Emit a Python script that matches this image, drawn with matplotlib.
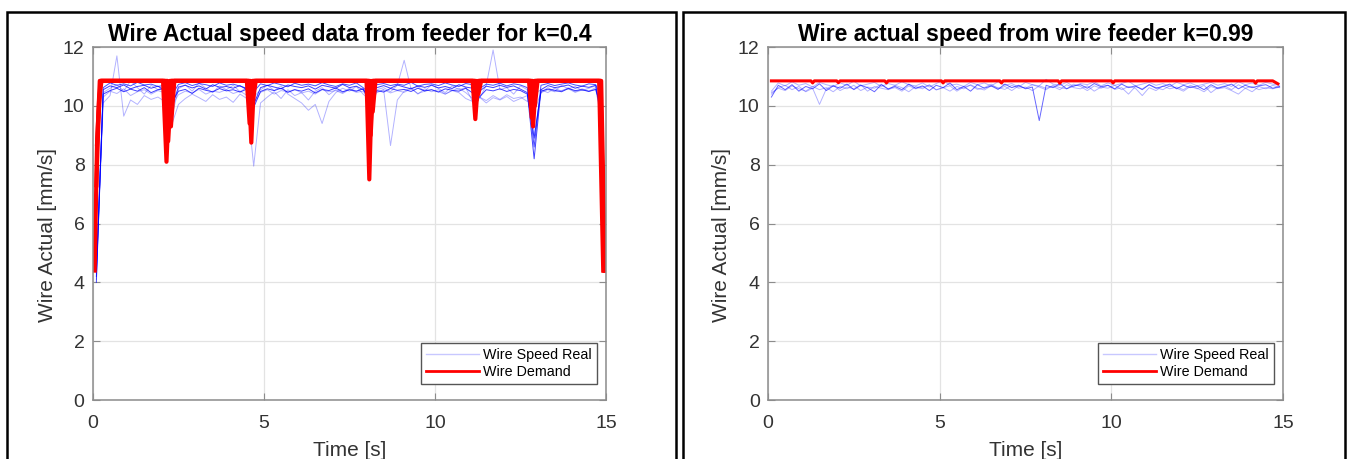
import matplotlib.pyplot as plt
import numpy as np
from matplotlib.lines import Line2D
from matplotlib.patches import Rectangle

plt.rcParams['font.family'] = ['Liberation Sans', 'DejaVu Sans']

# Sample times of the measured wire speed (every 0.2 s)
t_real = np.round(np.arange(0.1, 15.0, 0.2), 2)

# ---- k = 0.4 : measured wire speed, one list per run ----
left_real_1 = [4.2, 10.55, 10.68, 10.62, 10.71, 10.58, 10.66, 10.70, 10.60, 10.67,
               10.52, 9.95, 10.64, 10.70, 10.61, 10.68, 10.57, 10.72, 10.63, 10.66,
               10.60, 10.69, 10.55, 10.05, 10.62, 10.70, 10.64, 10.58, 10.71, 10.66,
               10.62, 10.68, 10.57, 10.70, 10.65, 10.60, 10.73, 10.62, 10.67, 10.55,
               10.30, 10.62, 10.69, 10.60, 10.71, 10.64, 10.58, 10.68, 10.63, 10.70,
               10.61, 10.66, 10.59, 10.72, 10.64, 10.60, 10.50, 10.67, 10.62, 10.70,
               10.63, 10.68, 10.57, 10.45, 8.20, 10.55, 10.69, 10.62, 10.66, 10.71,
               10.60, 10.67, 10.63, 10.70, 9.40]
left_real_2 = [4.0, 10.62, 10.78, 10.70, 10.75, 10.68, 10.80, 10.71, 10.74, 10.66,
               10.70, 10.35, 10.73, 10.79, 10.69, 10.76, 10.72, 10.66, 10.78, 10.70,
               10.74, 10.67, 10.60, 10.48, 10.75, 10.69, 10.78, 10.72, 10.65, 10.77,
               10.70, 10.74, 10.68, 10.79, 10.71, 10.66, 10.75, 10.70, 10.78, 10.62,
               10.40, 10.72, 10.76, 10.69, 10.74, 10.70, 10.80, 10.67, 10.73, 10.75,
               10.69, 10.78, 10.71, 10.66, 10.76, 10.72, 10.58, 10.74, 10.70, 10.77,
               10.68, 10.75, 10.71, 10.62, 8.60, 10.70, 10.76, 10.69, 10.74, 10.78,
               10.71, 10.67, 10.75, 10.72, 10.20]
left_real_3 = [4.4, 10.40, 10.52, 10.60, 10.48, 10.57, 10.50, 10.62, 10.45, 10.55,
               10.58, 10.10, 10.50, 10.56, 10.42, 10.60, 10.53, 10.48, 10.59, 10.51,
               10.55, 10.47, 10.57, 9.95, 10.49, 10.58, 10.52, 10.60, 10.46, 10.55,
               10.50, 10.58, 10.44, 10.56, 10.52, 10.61, 10.48, 10.55, 10.50, 10.58,
               10.15, 10.52, 10.47, 10.59, 10.53, 10.56, 10.49, 10.60, 10.51, 10.55,
               10.47, 10.58, 10.53, 10.50, 10.60, 10.44, 10.30, 10.55, 10.51, 10.58,
               10.49, 10.56, 10.52, 10.40, 8.90, 10.50, 10.57, 10.53, 10.48, 10.59,
               10.52, 10.55, 10.49, 10.56, 9.80]
left_real_4 = [4.3, 10.10, 10.35, 11.70, 9.65, 10.20, 10.05, 10.35, 10.22, 10.30,
               10.15, 9.35, 10.05, 10.25, 10.40, 10.28, 10.15, 10.38, 10.22, 10.30,
               10.12, 10.40, 10.25, 7.95, 10.10, 10.30, 10.48, 10.25, 10.55, 10.35,
               10.45, 10.20, 10.50, 10.62, 10.38, 10.55, 10.45, 10.60, 10.50, 10.58,
               10.05, 10.45, 10.55, 8.65, 10.20, 10.50, 10.62, 10.40, 10.58, 10.48,
               10.55, 10.40, 10.52, 10.60, 10.45, 10.25, 10.30, 10.18, 10.35, 10.22,
               10.38, 10.25, 10.30, 10.15, 10.40, 10.55, 10.45, 10.60, 10.50, 10.62,
               10.48, 10.58, 10.50, 10.62, 9.20]
left_real_5 = [4.1, 10.45, 10.60, 10.72, 10.50, 10.85, 10.62, 10.40, 10.70, 10.55,
               10.66, 9.60, 10.58, 10.72, 10.50, 10.78, 10.60, 10.45, 10.68, 10.55,
               10.70, 10.48, 10.62, 10.30, 10.55, 10.70, 10.52, 10.68, 10.40, 10.25,
               10.10, 9.85, 10.05, 9.40, 10.15, 10.45, 10.60, 10.50, 10.66, 10.40,
               10.20, 10.55, 10.62, 10.48, 10.70, 11.55, 10.58, 10.66, 10.50, 10.72,
               10.60, 10.45, 10.68, 10.55, 10.62, 10.15, 10.25, 10.70, 11.90, 10.55,
               10.62, 10.40, 10.68, 10.55, 9.80, 10.45, 10.62, 10.50, 10.70, 10.58,
               10.66, 10.52, 10.60, 10.68, 9.60]
left_real_6 = [4.5, 10.30, 10.50, 10.42, 10.58, 10.35, 10.48, 10.55, 10.40, 10.52,
               10.45, 10.00, 10.38, 10.50, 10.44, 10.56, 10.40, 10.50, 10.46, 10.55,
               10.42, 10.50, 10.36, 10.10, 10.46, 10.55, 10.40, 10.52, 10.48, 10.56,
               10.44, 10.50, 10.40, 10.55, 10.48, 10.52, 10.42, 10.56, 10.46, 10.50,
               10.20, 10.48, 10.55, 10.44, 10.52, 10.46, 10.58, 10.42, 10.50, 10.55,
               10.48, 10.40, 10.52, 10.45, 10.25, 10.15, 10.30, 10.10, 10.28, 10.20,
               10.32, 10.15, 10.25, 10.35, 9.00, 10.45, 10.55, 10.48, 10.52, 10.58,
               10.46, 10.54, 10.50, 10.56, 9.50]
left_real = [left_real_1, left_real_2, left_real_3, left_real_4, left_real_5, left_real_6]
left_real_alpha = [0.75, 0.7, 0.75, 0.3, 0.3, 0.3]

# ---- k = 0.4 : wire demand, breakpoints per run ----
left_demand_t = [
    [0.05, 0.12, 0.2, 2.05, 2.15, 2.25, 4.5, 4.58, 4.66, 8.0, 8.08, 8.16,
     11.1, 11.18, 11.26, 12.75, 12.83, 12.91, 14.8, 14.92],
    [0.1, 0.16, 0.22, 2.1, 2.2, 2.3, 4.55, 4.63, 4.71, 8.05, 8.12, 8.2,
     11.15, 11.22, 11.3, 12.8, 12.87, 12.95, 14.84, 14.95],
    [0.12, 0.18, 0.25, 2.18, 2.28, 2.38, 4.6, 4.68, 4.76, 8.1, 8.18, 8.26,
     11.2, 11.27, 11.35, 12.85, 12.92, 13.0, 14.86, 14.97],
]
left_demand_v = [
    [4.4, 8.7, 10.85, 10.85, 8.1, 10.85, 10.85, 9.4, 10.85, 10.85, 7.5, 10.85,
     10.85, 9.55, 10.85, 10.85, 9.6, 10.85, 10.85, 4.4],
    [7.3, 9.5, 10.85, 10.85, 8.8, 10.85, 10.85, 8.75, 10.85, 10.85, 9.0, 10.85,
     10.85, 10.2, 10.85, 10.85, 9.3, 10.85, 10.85, 4.4],
    [8.7, 10.2, 10.85, 10.85, 9.3, 10.85, 10.85, 10.2, 10.85, 10.85, 9.8, 10.85,
     10.85, 10.4, 10.85, 10.85, 10.0, 10.85, 10.85, 4.4],
]

# ---- k = 0.99 : measured wire speed ----
right_real_1 = [10.30, 10.70, 10.55, 10.72, 10.50, 10.66, 10.58, 10.75, 10.52, 10.68,
                10.60, 10.74, 10.55, 10.70, 10.62, 10.48, 10.72, 10.58, 10.66, 10.55,
                10.74, 10.60, 10.68, 10.52, 10.70, 10.62, 10.78, 10.55, 10.66, 10.50,
                10.72, 10.60, 10.68, 10.56, 10.74, 10.62, 10.70, 10.58, 10.64, 9.50,
                10.70, 10.62, 10.75, 10.58, 10.68, 10.72, 10.60, 10.76, 10.65, 10.70,
                10.58, 10.74, 10.62, 10.68, 10.55, 10.72, 10.60, 10.66, 10.74, 10.58,
                10.70, 10.62, 10.68, 10.55, 10.72, 10.60, 10.66, 10.74, 10.58, 10.70,
                10.62, 10.68, 10.72, 10.60, 10.66]
right_real_2 = [10.40, 10.62, 10.70, 10.55, 10.66, 10.48, 10.60, 10.05, 10.58, 10.70,
                10.52, 10.64, 10.58, 10.72, 10.50, 10.66, 10.60, 10.55, 10.70, 10.62,
                10.48, 10.66, 10.58, 10.72, 10.54, 10.62, 10.68, 10.50, 10.64, 10.70,
                10.56, 10.62, 10.74, 10.58, 10.66, 10.52, 10.68, 10.60, 10.72, 10.64,
                10.55, 10.70, 10.62, 10.58, 10.74, 10.66, 10.52, 10.68, 10.60, 10.70,
                10.56, 10.62, 10.40, 10.66, 10.58, 10.72, 10.62, 10.55, 10.68, 10.60,
                10.50, 10.66, 10.58, 10.70, 10.45, 10.62, 10.68, 10.55, 10.72, 10.60,
                10.48, 10.66, 10.58, 10.70, 10.62]
right_real_3 = [10.50, 10.78, 10.68, 10.82, 10.70, 10.76, 10.64, 10.80, 10.72, 10.66,
                10.78, 10.70, 10.84, 10.68, 10.74, 10.80, 10.66, 10.76, 10.70, 10.82,
                10.72, 10.68, 10.78, 10.64, 10.76, 10.86, 10.70, 10.74, 10.66, 10.80,
                10.72, 10.78, 10.68, 10.82, 10.70, 10.76, 10.64, 10.80, 10.72, 10.68,
                10.90, 10.74, 10.70, 10.80, 10.66, 10.76, 10.72, 10.82, 10.68, 10.78,
                10.70, 10.76, 10.84, 10.68, 10.74, 10.80, 10.70, 10.76, 10.66, 10.80,
                10.72, 10.78, 10.68, 10.74, 10.80, 10.70, 10.76, 10.66, 10.82, 10.72,
                10.78, 10.70, 10.80, 10.74, 10.70]
right_real_4 = [10.45, 10.60, 10.52, 10.68, 10.58, 10.50, 10.66, 10.55, 10.62, 10.48,
                10.66, 10.58, 10.70, 10.52, 10.64, 10.60, 10.74, 10.56, 10.62, 10.50,
                10.68, 10.58, 10.64, 10.70, 10.55, 10.62, 10.50, 10.66, 10.58, 10.72,
                10.60, 10.54, 10.68, 10.62, 10.56, 10.70, 10.60, 10.64, 10.52, 10.68,
                10.60, 10.66, 10.55, 10.72, 10.62, 10.58, 10.68, 10.50, 10.64, 10.60,
                10.70, 10.55, 10.66, 10.60, 10.35, 10.62, 10.52, 10.68, 10.58, 10.64,
                10.55, 10.70, 10.60, 10.48, 10.66, 10.58, 10.62, 10.52, 10.40, 10.60,
                10.66, 10.55, 10.62, 10.58, 10.64]
right_real = [right_real_1, right_real_2, right_real_3, right_real_4]
right_real_alpha = [0.6, 0.3, 0.3, 0.3]

# ---- k = 0.99 : wire demand ----
right_demand_t = [0.1, 1.25, 1.3, 1.35, 2.0, 2.05, 2.1, 3.4, 3.45, 3.5, 5.05, 5.1, 5.15,
                  6.75, 6.8, 6.85, 8.45, 8.5, 8.55, 10.0, 10.05, 10.1, 14.15, 14.2,
                  14.25, 14.7, 14.85]
right_demand_v = [10.85, 10.85, 10.78, 10.85, 10.85, 10.79, 10.85, 10.85, 10.78, 10.85,
                  10.85, 10.78, 10.85, 10.85, 10.78, 10.85, 10.85, 10.77, 10.85, 10.85,
                  10.78, 10.85, 10.85, 10.77, 10.85, 10.85, 10.75]

TICK_COLOR = '#333333'
SPINE_COLOR = '#8c8c8c'


def style_axes(ax, title):
    ax.set_xlim(0, 15)
    ax.set_ylim(0, 12)
    ax.set_xticks([0, 5, 10, 15])
    ax.set_yticks([0, 2, 4, 6, 8, 10, 12])
    ax.grid(color='#e3e3e3', linewidth=0.9)
    ax.set_axisbelow(True)
    ax.tick_params(direction='in', top=True, right=True, length=5,
                   labelsize=14, colors=SPINE_COLOR, labelcolor=TICK_COLOR)
    ax.tick_params(axis='x', pad=11)
    ax.tick_params(axis='y', pad=6)
    for spine in ax.spines.values():
        spine.set_color(SPINE_COLOR)
        spine.set_linewidth(1.1)
    ax.set_title(title, fontsize=16.5, fontweight='bold', pad=4)
    ax.set_xlabel('Time [s]', fontsize=15, color=TICK_COLOR, labelpad=6)
    ax.set_ylabel('Wire Actual [mm/s]', fontsize=15, color=TICK_COLOR)
    ax.yaxis.set_label_coords(-0.071, 0.467)
    handles = [Line2D([], [], color='#c8c8ff', lw=1),
               Line2D([], [], color='red', lw=2)]
    leg = ax.legend(handles, ['Wire Speed Real', 'Wire Demand'], loc='lower right',
                    bbox_to_anchor=(0.982, 0.045), borderaxespad=0, fontsize=10.3,
                    fancybox=False, framealpha=1, edgecolor='#555555',
                    handlelength=3.7, handletextpad=0.3, borderpad=0.35,
                    labelspacing=0.25)
    leg.get_frame().set_linewidth(1.0)


fig = plt.figure(figsize=(13.49, 4.59), dpi=100)
ax_left = fig.add_axes([0.0689, 0.1285, 0.3803, 0.769])
ax_right = fig.add_axes([0.5693, 0.1285, 0.3818, 0.769])

for values, alpha in zip(left_real, left_real_alpha):
    ax_left.plot(t_real, values, color='blue', lw=0.7, alpha=alpha)
for tt, vv in zip(left_demand_t, left_demand_v):
    ax_left.plot(tt, vv, color='red', lw=3)
style_axes(ax_left, 'Wire Actual speed data from feeder for k=0.4')

for values, alpha in zip(right_real, right_real_alpha):
    ax_right.plot(t_real, values, color='blue', lw=0.7, alpha=alpha)
ax_right.plot(right_demand_t, right_demand_v, color='red', lw=2.2)
style_axes(ax_right, 'Wire actual speed from wire feeder k=0.99')

# black frames around each panel (open at the cropped bottom)
for x0, x1 in [(0.0052, 0.5011), (0.5063, 0.9970)]:
    fig.patches.append(Rectangle((x0, -0.1), x1 - x0, 1.074, transform=fig.transFigure,
                                 fill=False, edgecolor='black', linewidth=1.8))

fig.savefig('out.png', dpi=100)
